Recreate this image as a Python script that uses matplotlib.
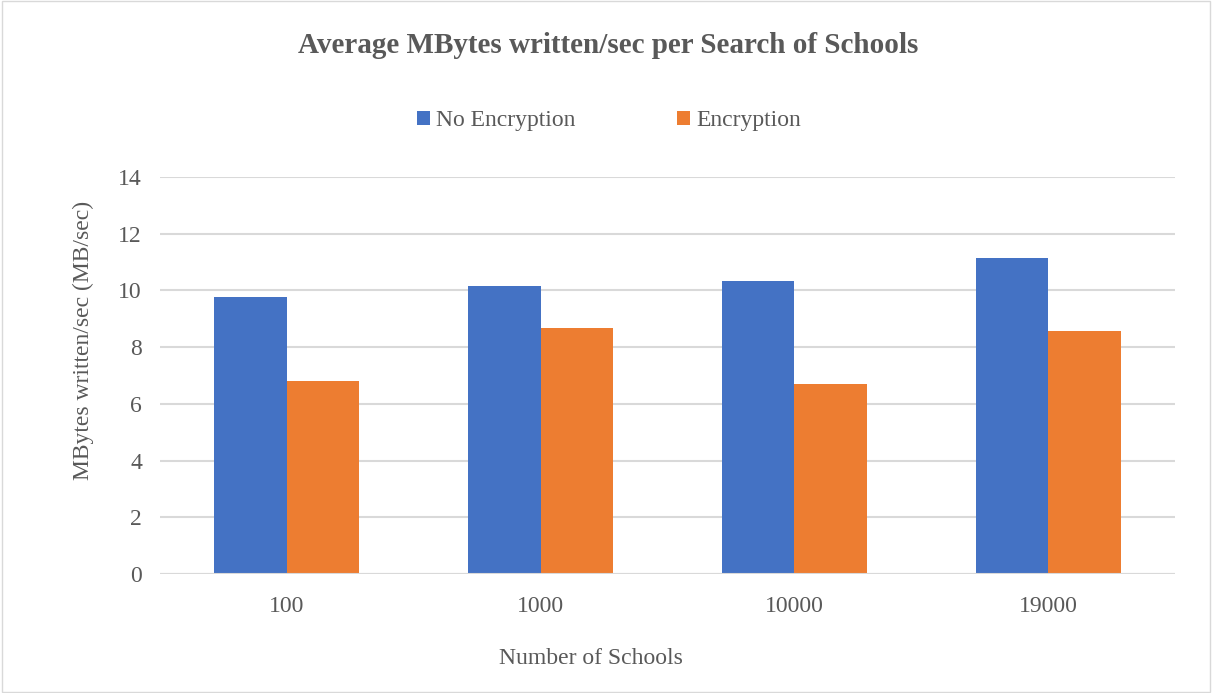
import numpy as np
import matplotlib.pyplot as plt
from matplotlib.patches import Rectangle

schools = ["100", "1000", "10000", "19000"]
no_enc = [9.76, 10.14, 10.35, 11.15]
enc = [6.82, 8.66, 6.69, 8.58]

blue = "#4472C4"
orange = "#ED7D31"
txt = "#595959"

plt.rcParams['font.family'] = ['Liberation Serif', 'DejaVu Serif']

fig = plt.figure(figsize=(12.12, 6.93), dpi=100)
ax = fig.add_axes([0.132, 0.1717, 0.8375, 0.5729])

x = np.arange(len(schools))
w = 0.286
ax.bar(x - w / 2, no_enc, w, color=blue, label="No Encryption", zorder=3)
ax.bar(x + w / 2, enc, w, color=orange, label="Encryption", zorder=3)

ax.set_xlim(-0.5, len(schools) - 0.5)
ax.set_ylim(0, 14)
ax.set_yticks(range(0, 15, 2))
ax.set_xticks(x)
ax.set_xticklabels(schools)
ax.yaxis.grid(True, color="#D9D9D9", linewidth=1.5, zorder=0)
for s in ax.spines.values():
    s.set_visible(False)
ax.axhline(0, color="#D9D9D9", linewidth=1.5, zorder=4)
ax.tick_params(length=0, labelsize=17, colors=txt, pad=13)
ax.tick_params(axis='x', pad=16)

# labels sit off-centre in the original
ax.set_ylabel("MBytes written/sec (MB/sec)", fontsize=17, color=txt, va="center")
ax.yaxis.set_label_coords(-0.0759, 0.589)
ax.set_xlabel("Number of Schools", fontsize=17, color=txt, va="center")
ax.xaxis.set_label_coords(0.4246, -0.2116)

fig.text(0.502, 0.934, "Average MBytes written/sec per Search of Schools",
         ha="center", va="center", fontsize=21, fontweight="bold", color=txt)

fig.legend(loc="center", bbox_to_anchor=(0.5025, 0.826), ncol=2, frameon=False,
           fontsize=17, labelcolor=txt, handlelength=0.55, handleheight=0.55,
           handletextpad=0.25, columnspacing=4.3)

fig.patches.append(Rectangle((0.002, 0.002), 0.996, 0.996, transform=fig.transFigure,
                             fill=False, edgecolor="#D9D9D9", linewidth=1))

fig.savefig("out.png", dpi=100)
